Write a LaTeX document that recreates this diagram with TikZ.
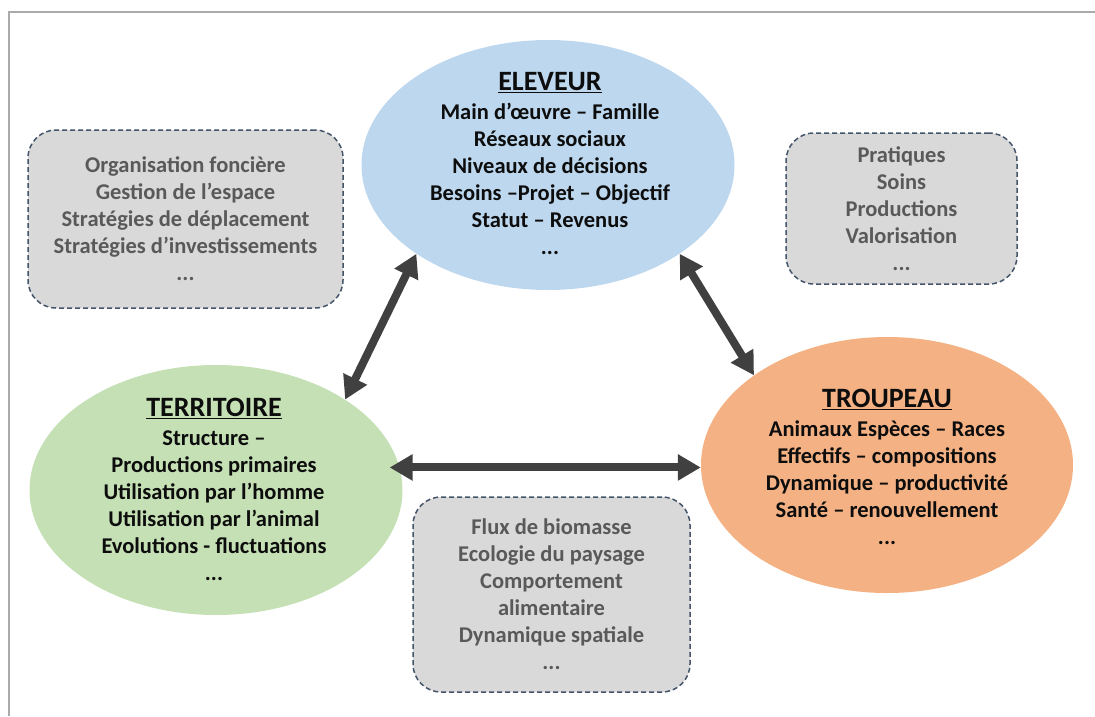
\documentclass[tikz,border=0pt]{standalone}
\usepackage{fontspec}
\setmainfont{Carlito}
\usetikzlibrary{shapes.geometric,arrows.meta}

\begin{document}
\begin{tikzpicture}[x=1pt, y=-1pt,
    pole/.style={draw=none, shape=ellipse, inner sep=0pt},
    poletext/.style={anchor=north, align=center, inner sep=0pt, text=Tblack, font=\bfseries\fontsize{22.5}{27}\selectfont},
    sidebox/.style={draw=Bline, fill=Bgray, line width=1.5pt, dash pattern=on 5pt off 3pt, rounded corners=28pt, align=center, text=Btext, font=\bfseries\fontsize{22.5}{27}\selectfont},
    link/.style={draw=Acolor, line width=8pt, {Triangle[length=23pt, width=25pt]}-{Triangle[length=23pt, width=25pt]}}]
    \definecolor{Ecolor}{RGB}{189, 215, 238}
    \definecolor{Tcolor}{RGB}{197, 224, 180}
    \definecolor{Pcolor}{RGB}{244, 177, 131}
    \definecolor{Bgray}{RGB}{217, 217, 217}
    \definecolor{Bline}{RGB}{68, 84, 106}
    \definecolor{Btext}{RGB}{89, 89, 89}
    \definecolor{Tblack}{RGB}{13, 13, 13}
    \definecolor{Acolor}{RGB}{64, 64, 64}
    \definecolor{Fgray}{RGB}{170, 170, 170}
    \def\titlefont{\fontsize{28}{27}\selectfont}
    \def\polewidth{373pt}
    \useasboundingbox (0, 0) rectangle (1095, 716);
    \draw[draw=Fgray, line width=2pt] (1095, 12) -- (9, 12) -- (9, 716);
    \node[pole, fill=Ecolor, minimum width=\polewidth, minimum height=250pt] (elev) at (548, 165) {};
    \node[pole, fill=Tcolor, minimum width=\polewidth, minimum height=250pt] (terr) at (216, 490) {};
    \node[pole, fill=Pcolor, minimum width=372pt, minimum height=256pt] (troup) at (887, 465) {};
    \node[poletext] (elevtxt) at (550, 72) {{\titlefont\underline{ELEVEUR}}\\[2pt]
        Main d’œuvre – Famille\\ Réseaux sociaux\\ Niveaux de décisions\\
        Besoins –Projet – Objectif\\ Statut – Revenus\\ ...};
    \node[poletext] (terrtxt) at (214, 398) {{\titlefont\underline{TERRITOIRE}}\\[2pt]
        Structure –\\ Productions primaires\\ Utilisation par l’homme\\
        Utilisation par l’animal\\ Evolutions - fluctuations\\ ...};
    \node[poletext] (trouptxt) at (887, 389) {{\titlefont\underline{TROUPEAU}}\\[2pt]
        Animaux Espèces – Races\\ Effectifs – compositions\\
        Dynamique – productivité\\ Santé – renouvellement\\ ...};
    \node[sidebox, minimum width=315pt, minimum height=178pt] (foncier) at (185.5, 219) {Organisation foncière\\ Gestion de l’espace\\ Stratégies de déplacement\\ Stratégies d’investissements\\ ...};
    \node[sidebox, minimum width=231pt, minimum height=151pt] (pratiques) at (901.5, 208.5) {Pratiques\\ Soins\\ Productions\\ Valorisation\\ ...};
    \node[sidebox, minimum width=277pt, minimum height=195pt] (biomasse) at (551.5, 594.5) {Flux de biomasse\\ Ecologie du paysage\\ Comportement\\ alimentaire\\ Dynamique spatiale\\ ...};
    \draw[link] (elev.214.7) -- (terr.35.3);
    \draw[link] (elev.326.3) -- (troup.146.3);
    \draw[link, shorten <=-10pt] (terr.7) -- (terr.7 -| troup.west);
\end{tikzpicture}
\end{document}
